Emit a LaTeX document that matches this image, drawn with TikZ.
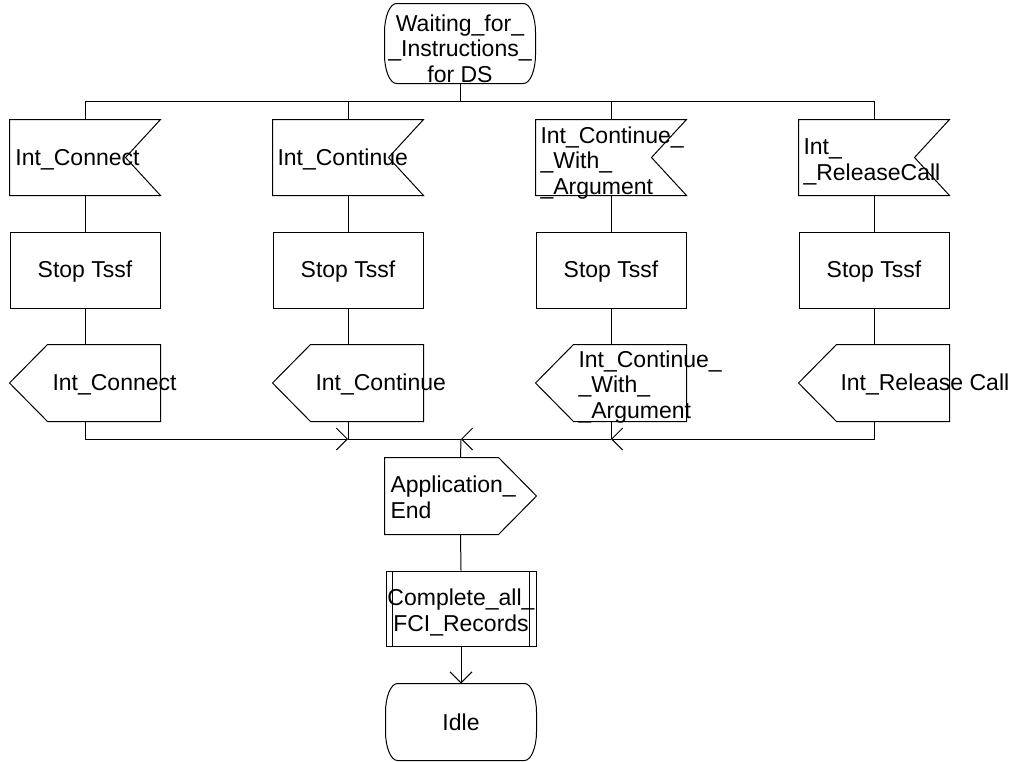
\documentclass[tikz,border=0pt]{standalone}
\usepackage{fontspec}
\setmainfont{Liberation Sans}
\usetikzlibrary{arrows.meta,calc}
\newcommand\sdlstate[1]{%
  \draw ($(#1.north west)+(12pt,0pt)$) -- ($(#1.north east)+(-12pt,0pt)$)
    arc[start angle=90,end angle=0,x radius=12pt,y radius=29pt]
    -- ($(#1.south east)+(0pt,29pt)$)
    arc[start angle=0,end angle=-90,x radius=12pt,y radius=29pt]
    -- ($(#1.south west)+(12pt,0pt)$)
    arc[start angle=-90,end angle=-180,x radius=12pt,y radius=29pt]
    -- ($(#1.north west)+(0pt,-29pt)$)
    arc[start angle=180,end angle=90,x radius=12pt,y radius=29pt] -- cycle;}
\newcommand\sdlinput[1]{%
  \draw (#1.north west) -- (#1.north east) -- ($(#1.east)+(-35pt,0pt)$)
    -- (#1.south east) -- (#1.south west) -- cycle;}
\newcommand\sdloutput[1]{%
  \draw ($(#1.north west)+(38pt,0pt)$) -- (#1.north east) -- (#1.south east)
    -- ($(#1.south west)+(38pt,0pt)$) -- (#1.west) -- cycle;}
\begin{document}
\begin{tikzpicture}[x=1pt,y=-1pt,line width=1pt,
  shp/.style={draw=none,inner sep=0pt,minimum width=150pt,minimum height=75pt},
  procbox/.style={draw,inner sep=0pt,minimum width=150pt,minimum height=76pt},
  lbl/.style={inner sep=0pt,anchor=base west,align=left,font=\fontsize{23}{25.3}\selectfont},
  clbl/.style={inner sep=0pt,anchor=base,align=center,font=\fontsize{23}{25.3}\selectfont},
  arr/.style={-{Straight Barb[length=11pt,width=22pt]}}]
\useasboundingbox (0,0) rectangle (1011,761);

% state at top
\node[shp,minimum height=79pt] (wait) at (460,43.5) {};
\sdlstate{wait}
\node[clbl] (twait) at (460,82) {Waiting\_for\_\\\_Instructions\_\\for DS};

% columns
\foreach \i/\cx in {1/85,2/348,3/611,4/874}{
  \node[shp] (in\i) at (\cx,157.5) {};
  \sdlinput{in\i}
  \node[procbox] (st\i) at (\cx,270) {};
  \node[shp,minimum height=76pt] (out\i) at (\cx,383) {};
  \sdloutput{out\i}
  \node[clbl] (tst\i) at (\cx,277.5) {Stop Tssf};
  \draw (in\i.south) -- (st\i.north);
  \draw (st\i.south) -- (out\i.north);
}

% input texts
\node[lbl] (tin1) at (15,165.5) {Int\_Connect};
\node[lbl] (tin2) at (277,165.5) {Int\_Continue};
\node[lbl] (tin3) at (540,194) {Int\_Continue\_\\\_With\_\\\_Argument};
\node[lbl] (tin4) at (803,180) {Int\_\\\_ReleaseCall};

% output texts
\node[lbl] (tout1) at (52,390.5) {Int\_Connect};
\node[lbl] (tout2) at (315,390.5) {Int\_Continue};
\node[lbl] (tout3) at (578,418) {Int\_Continue\_\\\_With\_\\\_Argument};
\node[lbl] (tout4) at (840,390.5) {Int\_Release Call};

% top bus
\coordinate (bus) at (460,101);
\draw (wait.south) -- (bus);
\draw (in1.north) -- (in1.north |- bus) -- (in4.north |- bus) -- (in4.north);
\draw (in2.north) -- (in2.north |- bus);
\draw (in3.north) -- (in3.north |- bus);

% lower part
\node[shp,minimum width=151pt,minimum height=76pt] (appe) at (460.5,496) {};
\draw (appe.north west) -- ($(appe.north east)+(-38pt,0pt)$) -- (appe.east)
  -- ($(appe.south east)+(-38pt,0pt)$) -- (appe.south west) -- cycle;
\node[lbl] (tappe) at (390,518) {Application\_\\End};

\node[procbox,minimum height=75pt] (comp) at (461,608.5) {};
\draw ($(comp.north west)+(7pt,0pt)$) -- ($(comp.south west)+(7pt,0pt)$);
\draw ($(comp.north east)+(-7pt,0pt)$) -- ($(comp.south east)+(-7pt,0pt)$);
\node[clbl] (tcomp) at (461,631) {Complete\_all\_\\FCI\_Records};

\node[shp,minimum height=76pt] (idle) at (461,722) {};
\sdlstate{idle}
\node[clbl] (tidle) at (461,730) {Idle};

% merge bus
\coordinate (merge) at (461,439);
\draw[arr] (out1.south) |- (out2.south |- merge);
\draw (out2.south) -- (out2.south |- merge) -- (merge);
\draw[arr] (out4.south) |- (out3.south |- merge);
\draw (out3.south) -- (out3.south |- merge);
\draw[arr] (out3.south |- merge) -- (merge);
\draw (merge) -- (appe.north);
\draw (appe.south) -- (comp.north);
\draw[arr] (comp.south) -- (idle.north);
\end{tikzpicture}
\end{document}
